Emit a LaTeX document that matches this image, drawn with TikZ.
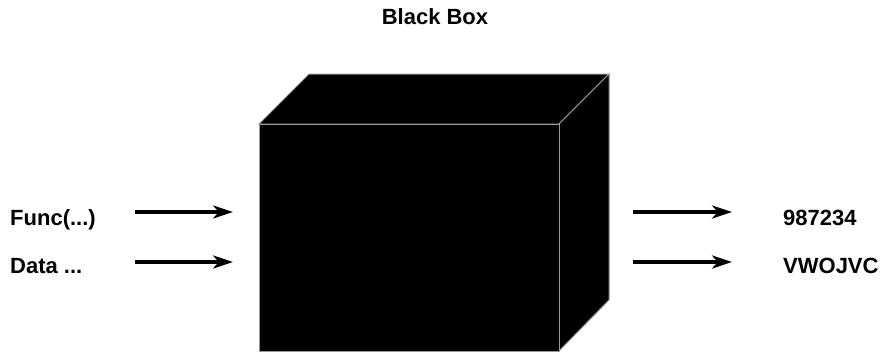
\documentclass[tikz,border=0pt]{standalone}
\usepackage{fontspec}
\setmainfont{Liberation Sans}
\usetikzlibrary{arrows.meta}
\begin{document}
\begin{tikzpicture}[x=1pt,y=-1pt,
  lbl/.style={font=\fontsize{22}{24}\selectfont\bfseries, inner sep=0pt},
  face/.style={fill=black, draw=black!40, line width=1pt, line join=miter},
  arr/.style={line width=3.3pt, -{Stealth[length=20pt,width=13pt,inset=6pt]}}]
\useasboundingbox (0,0) rectangle (884,351);
% box
\coordinate (fa) at (259,124);
\coordinate (fb) at (559,124);
\coordinate (fc) at (559,351);
\coordinate (fd) at (259,351);
\coordinate (ta) at (309,74);
\coordinate (tb) at (609,74);
\coordinate (rc) at (609,300);
\fill[black] (fa) -- (ta) -- (tb) -- (rc) -- (fc) -- (fd) -- cycle;
\draw[face] (fa) -- (ta) -- (tb) -- (fb) -- cycle;
\draw[face] (fb) -- (tb) -- (rc) -- (fc) -- cycle;
\draw[face] (fa) rectangle (fc);
% labels
\node[lbl, anchor=base] (title) at (435,24) {Black Box};
\node[lbl, anchor=base west] (in1) at (10,225) {Func(...)};
\node[lbl, anchor=base west] (in2) at (10,273) {Data ...};
\node[lbl, anchor=base west] (out1) at (783,225) {987234};
\node[lbl, anchor=base west] (out2) at (783,273) {VWOJVC};
% arrows
\coordinate (a1s) at (135,212); \coordinate (a1e) at (233,212);
\coordinate (a2s) at (135,262); \coordinate (a2e) at (233,262);
\coordinate (b1s) at (633,212); \coordinate (b1e) at (732,212);
\coordinate (b2s) at (633,262); \coordinate (b2e) at (732,262);
\draw[arr] (a1s) -- (a1e);
\draw[arr] (a2s) -- (a2e);
\draw[arr] (b1s) -- (b1e);
\draw[arr] (b2s) -- (b2e);
\end{tikzpicture}
\end{document}
